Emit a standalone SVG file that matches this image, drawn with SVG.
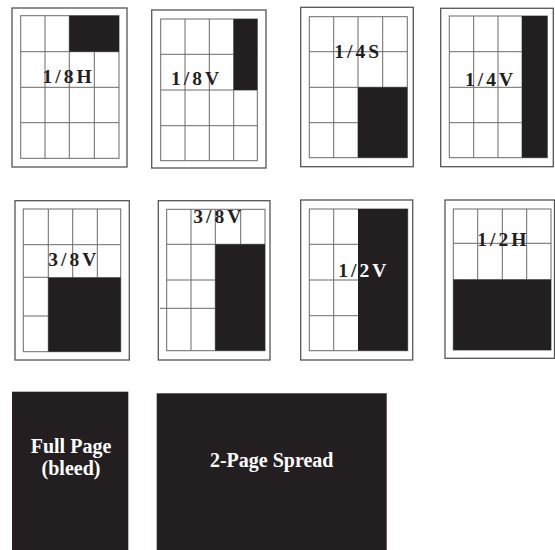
<svg xmlns="http://www.w3.org/2000/svg" width="555" height="550" viewBox="0 0 555 550">
<defs>
<style>
.page{fill:#fff;stroke:#555;stroke-width:1.3}
.grid{fill:none;stroke:#6a6a6a;stroke-width:1}
.blk{fill:#231f20}
.lbl{font-family:"Liberation Serif",serif;font-size:19.5px;font-weight:bold;fill:#231f20;letter-spacing:3px}
.wlbl{font-family:"Liberation Serif",serif;font-size:19.5px;font-weight:bold;fill:#fff;letter-spacing:3px}
.big{font-family:"Liberation Serif",serif;font-size:20px;font-weight:bold;fill:#fff;text-anchor:middle}
</style>
<clipPath id="c7"><rect x="358" y="209" width="49.7" height="141.7"/></clipPath>
</defs>
<rect width="555" height="550" fill="#fff"/>

<g id="p1">
<rect class="page" x="12" y="8" width="115" height="159"/>
<rect class="grid" x="20.7" y="15.7" width="98.3" height="142.6"/>
<path class="grid" d="M45 15.7V158.3M69.3 15.7V158.3M94.3 15.7V158.3M20.7 51.7H119M20.7 87.3H119M20.7 122.7H119"/>
<rect class="blk" x="69.3" y="15.7" width="49.7" height="36"/>
<text class="lbl" x="42.5" y="82.7">1/8H</text>
</g>

<g id="p2">
<rect class="page" x="151.7" y="10" width="114.3" height="158"/>
<rect class="grid" x="160.7" y="19" width="96.6" height="141.7"/>
<path class="grid" d="M185 19V160.7M209.3 19V160.7M233.7 19V160.7M160.7 54.3H257.3M160.7 90H257.3M160.7 125.7H257.3"/>
<rect class="blk" x="233.7" y="19" width="23.6" height="71"/>
<text class="lbl" x="171" y="85">1/8V</text>
</g>

<g id="p3">
<rect class="page" x="300.7" y="7.3" width="112.6" height="159.4"/>
<rect class="grid" x="309.3" y="16.7" width="98" height="141"/>
<path class="grid" d="M333.7 16.7V157.7M358 16.7V157.7M382.7 16.7V87.3M309.3 51.7H407.3M309.3 87.3H407.3M309.3 122.7H358"/>
<rect class="blk" x="358" y="87.3" width="49.3" height="70.4"/>
<text class="lbl" x="334.3" y="58.3">1/4S</text>
</g>

<g id="p4">
<rect class="page" x="440.7" y="8.3" width="112.6" height="158.4"/>
<rect class="grid" x="449.3" y="16" width="98" height="141.7"/>
<path class="grid" d="M473.7 16V157.7M498 16V157.7M449.3 51.7H521.7M449.3 87.3H521.7M449.3 122.7H521.7"/>
<rect class="blk" x="521.7" y="16" width="25.6" height="141.7"/>
<text class="lbl" x="465" y="86">1/4V</text>
</g>

<g id="p5">
<rect class="page" x="15" y="200.7" width="114.3" height="159.3"/>
<rect class="grid" x="23.3" y="209" width="97.4" height="142.7"/>
<path class="grid" d="M48.3 209V351.7M72.7 209V277.3M97.3 209V277.3M23.3 244.7H120.7M23.3 277.3H48.3M23.3 316H48.3"/>
<rect class="blk" x="48.3" y="277.3" width="72.4" height="74.4"/>
<text class="lbl" x="48.3" y="266">3/8V</text>
</g>

<g id="p6">
<rect class="page" x="158.3" y="200.7" width="111.7" height="159.3"/>
<rect class="grid" x="166.7" y="209.3" width="98.3" height="141.4"/>
<path class="grid" d="M191 209.3V350.7M215.3 209.3V350.7M240.7 209.3V244.3M166.7 244.3H265M166.7 280H215.3M160 308.3H215.3"/>
<rect class="blk" x="215.3" y="244.3" width="49.7" height="106.4"/>
<text class="lbl" x="193.3" y="223.3">3/8V</text>
</g>

<g id="p7">
<rect class="page" x="300.7" y="200" width="112" height="160"/>
<rect class="grid" x="309.3" y="209" width="98.4" height="141.7"/>
<path class="grid" d="M333.7 209V350.7M309.3 244.3H358M309.3 280H358M309.3 315.7H358"/>
<rect class="blk" x="358" y="209" width="49.7" height="141.7"/>
<text class="lbl" x="338.3" y="276.7">1/2V</text>
<text class="wlbl" x="338.3" y="276.7" clip-path="url(#c7)">1/2V</text>
</g>

<g id="p8">
<rect class="page" x="445" y="200" width="109.5" height="158.3"/>
<rect class="grid" x="453.3" y="209" width="97.7" height="141"/>
<path class="grid" d="M477.7 209V279.3M502.3 209V279.3M526.7 209V279.3M453.3 243.3H551"/>
<rect class="blk" x="453.3" y="279.3" width="97.7" height="70.7"/>
<text class="lbl" x="477.3" y="246">1/2H</text>
</g>

<g id="full">
<rect class="blk" x="12" y="391.7" width="116.3" height="160"/>
<text class="big"><tspan x="71" y="452.5">Full Page</tspan><tspan x="71" y="475">(bleed)</tspan></text>
</g>

<g id="spread">
<rect class="blk" x="156.7" y="393.3" width="230" height="160"/>
<text class="big" x="271.7" y="467.3">2-Page Spread</text>
</g>
</svg>
